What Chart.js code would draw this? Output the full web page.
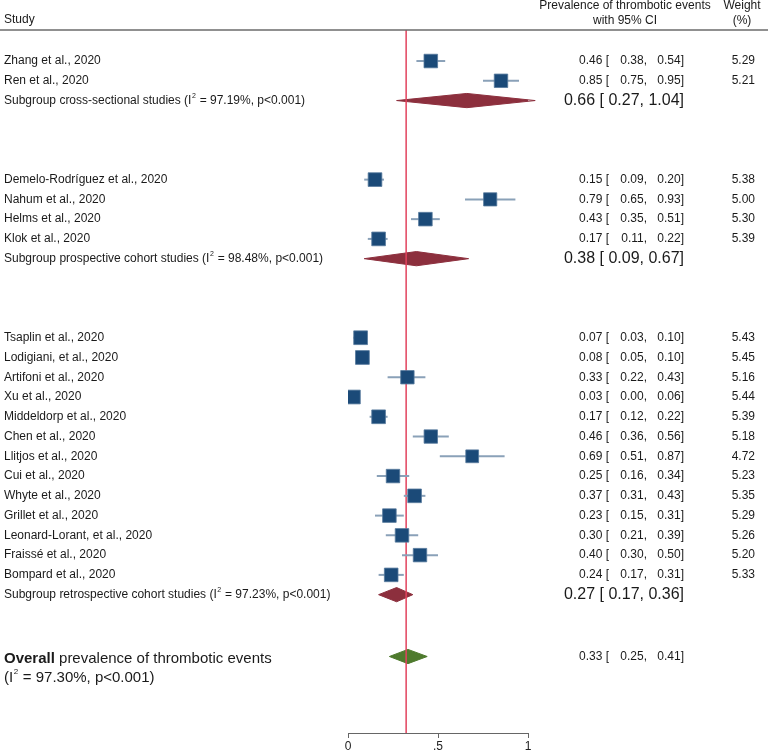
<!DOCTYPE html>
<html>
<head>
<meta charset="utf-8">
<script src="https://cdn.jsdelivr.net/npm/chart.js@4.4.0/dist/chart.umd.min.js"></script>
<style>
  body { margin: 0; background: #fff; }
  #wrap { width: 768px; height: 750px; position: relative; }
</style>
</head>
<body>
<div id="wrap"><canvas id="forest"></canvas></div>
<script>
// study level data
const studies = [
  'Zhang et al., 2020', 'Ren et al., 2020',
  'Demelo-Rodríguez et al., 2020', 'Nahum et al., 2020', 'Helms et al., 2020', 'Klok et al., 2020',
  'Tsaplin et al., 2020', 'Lodigiani, et al., 2020', 'Artifoni et al., 2020', 'Xu et al., 2020',
  'Middeldorp et al., 2020', 'Chen et al., 2020', 'Llitjos et al., 2020', 'Cui et al., 2020',
  'Whyte et al., 2020', 'Grillet et al., 2020', 'Leonard-Lorant, et al., 2020', 'Fraissé et al., 2020',
  'Bompard et al., 2020'
];
const estimates = [0.46, 0.85, 0.15, 0.79, 0.43, 0.17, 0.07, 0.08, 0.33, 0.03, 0.17, 0.46, 0.69, 0.25, 0.37, 0.23, 0.30, 0.40, 0.24];
const lowerCI   = [0.38, 0.75, 0.09, 0.65, 0.35, 0.11, 0.03, 0.05, 0.22, 0.00, 0.12, 0.36, 0.51, 0.16, 0.31, 0.15, 0.21, 0.30, 0.17];
const upperCI   = [0.54, 0.95, 0.20, 0.93, 0.51, 0.22, 0.10, 0.10, 0.43, 0.06, 0.22, 0.56, 0.87, 0.34, 0.43, 0.31, 0.39, 0.50, 0.31];
const weights   = [5.29, 5.21, 5.38, 5.00, 5.30, 5.39, 5.43, 5.45, 5.16, 5.44, 5.39, 5.18, 4.72, 5.23, 5.35, 5.29, 5.26, 5.20, 5.33];

// subgroups
const groupSizes = [2, 4, 13];
const groupNames = ['cross-sectional', 'prospective cohort', 'retrospective cohort'];
const groupI2 = ['97.19', '98.48', '97.23'];
const groupEst = [0.66, 0.38, 0.27];
const groupLo  = [0.27, 0.09, 0.17];
const groupHi  = [1.04, 0.67, 0.36];

// overall
const overallEst = 0.33, overallLo = 0.25, overallHi = 0.41;
const overallI2 = '97.30';
const overallDiamond = [0.23, 0.333, 0.44]; // as drawn
const refLine = 0.323;

const xTicks = [0, 0.5, 1];
const xTickLabels = ['0', '.5', '1'];

// row layout
const studyRows = [], groupRows = [];
let row = 0;
groupSizes.forEach(n => {
  for (let i = 0; i < n; i++) studyRows.push(row++);
  groupRows.push(row++);
  row += 3;
});
const overallRow = groupRows[groupRows.length - 1] + 3.13;
const yMin = -1.57, yMax = 34;

const FONT = '"Liberation Sans", Arial, sans-serif';
const TXT = '#1a1a1a';
const DH = 0.36;

const datasets = [];
// diamonds
groupEst.forEach((e, g) => {
  const r = groupRows[g];
  datasets.push({
    data: [{x: groupLo[g], y: r}, {x: e, y: r - DH}, {x: groupHi[g], y: r}, {x: e, y: r + DH}, {x: groupLo[g], y: r}],
    showLine: true, fill: 'shape', backgroundColor: '#8c2f3d', borderColor: '#8c2f3d',
    borderWidth: 1, pointRadius: 0, clip: false, order: 5
  });
});
datasets.push({
  data: [{x: overallDiamond[0], y: overallRow}, {x: overallDiamond[1], y: overallRow - DH},
         {x: overallDiamond[2], y: overallRow}, {x: overallDiamond[1], y: overallRow + DH},
         {x: overallDiamond[0], y: overallRow}],
  showLine: true, fill: 'shape', backgroundColor: '#4e7a2d', borderColor: '#4e7a2d',
  borderWidth: 1, pointRadius: 0, clip: false, order: 5
});
// reference line
datasets.push({
  data: [{x: refLine, y: yMin}, {x: refLine, y: yMax}],
  showLine: true, borderColor: '#e2435e', borderWidth: 1.5, pointRadius: 0, order: 4
});
// confidence intervals
studies.forEach((s, i) => {
  datasets.push({
    data: [{x: lowerCI[i], y: studyRows[i]}, {x: upperCI[i], y: studyRows[i]}],
    showLine: true, borderColor: '#8aa1b8', borderWidth: 2, pointRadius: 0, order: 3
  });
});
// squares
datasets.push({
  data: estimates.map((e, i) => ({x: e, y: studyRows[i]})),
  pointStyle: 'rect',
  pointRadius: weights.map(w => 5.9 * Math.sqrt(w) / Math.SQRT2),
  backgroundColor: '#1b4a78', borderColor: '#56799c', borderWidth: 0.8, order: 1
});

function drawI2(ctx, x, y, before, value, size) {
  ctx.textAlign = 'left';
  ctx.font = size + 'px ' + FONT;
  const a = before + '(I';
  ctx.fillText(a, x, y);
  const w = ctx.measureText(a).width;
  ctx.font = Math.round(size * 0.55) + 'px ' + FONT;
  ctx.fillText('2', x + w + 0.5, y - size * 0.4);
  const w2 = ctx.measureText('2').width;
  ctx.font = size + 'px ' + FONT;
  ctx.fillText(' = ' + value + '%, p<0.001)', x + w + w2 + 1, y);
}

const textPlugin = {
  id: 'forestText',
  afterDraw(chart) {
    const ctx = chart.ctx, ys = chart.scales.y, area = chart.chartArea;
    ctx.save();
    // header rule
    ctx.strokeStyle = '#6b6b6b';
    ctx.lineWidth = 1.5;
    ctx.beginPath();
    ctx.moveTo(0, area.top);
    ctx.lineTo(chart.width, area.top);
    ctx.stroke();

    ctx.fillStyle = TXT;
    ctx.textBaseline = 'middle';
    ctx.font = '12px ' + FONT;
    ctx.textAlign = 'left';
    ctx.fillText('Study', 4, 20);
    ctx.textAlign = 'center';
    ctx.fillText('Prevalence of thrombotic events', 625, 6);
    ctx.fillText('with 95% CI', 625, 21);
    ctx.fillText('Weight', 742, 6);
    ctx.fillText('(%)', 742, 21);

    const num = (v, x, y, suffix) => {
      ctx.textAlign = 'right';
      ctx.fillText(v + suffix, x, y);
    };

    studies.forEach((s, i) => {
      const y = ys.getPixelForValue(studyRows[i]);
      ctx.font = '12px ' + FONT;
      ctx.textAlign = 'left';
      ctx.fillText(s, 4, y);
      num(estimates[i].toFixed(2), 609, y, ' [');
      num(lowerCI[i].toFixed(2), 647, y, ',');
      num(upperCI[i].toFixed(2), 684, y, ']');
      num(weights[i].toFixed(2), 755, y, '');
    });

    groupRows.forEach((r, g) => {
      const y = ys.getPixelForValue(r);
      drawI2(ctx, 4, y, 'Subgroup ' + groupNames[g] + ' studies ', groupI2[g], 12);
      ctx.font = '16px ' + FONT;
      ctx.textAlign = 'right';
      ctx.fillText(groupEst[g].toFixed(2) + ' [ ' + groupLo[g].toFixed(2) + ', ' + groupHi[g].toFixed(2) + ']', 684, y);
    });

    const yo = ys.getPixelForValue(overallRow);
    ctx.textAlign = 'left';
    ctx.font = 'bold 15px ' + FONT;
    ctx.fillText('Overall', 4, yo + 2);
    const wb = ctx.measureText('Overall').width;
    ctx.font = '15px ' + FONT;
    ctx.fillText(' prevalence of thrombotic events', 4 + wb, yo + 2);
    drawI2(ctx, 4, yo + 21, '', overallI2, 15);
    ctx.font = '12px ' + FONT;
    num(overallEst.toFixed(2), 609, yo, ' [');
    num(overallLo.toFixed(2), 647, yo, ',');
    num(overallHi.toFixed(2), 684, yo, ']');
    ctx.restore();
  }
};

new Chart(document.getElementById('forest'), {
  type: 'scatter',
  data: { datasets: datasets },
  options: {
    responsive: true,
    maintainAspectRatio: false,
    animation: false,
    events: [],
    layout: { padding: { left: 348, right: 240, top: 30, bottom: 0 } },
    plugins: { legend: { display: false }, tooltip: { enabled: false } },
    scales: {
      x: {
        type: 'linear', min: 0, max: 1,
        afterBuildTicks: s => { s.ticks = xTicks.map(v => ({value: v})); },
        afterFit: s => { s.height = 17; },
        ticks: {
          padding: 1, color: '#222', font: { family: FONT, size: 12 },
          maxRotation: 0,
          callback: v => xTickLabels[xTicks.indexOf(v)]
        },
        grid: { drawOnChartArea: false, drawTicks: true, tickLength: 5, color: '#666' },
        border: { display: true, color: '#666', width: 1 }
      },
      y: {
        type: 'linear', min: yMin, max: yMax, reverse: true, display: false
      }
    }
  },
  plugins: [textPlugin]
});
</script>
</body>
</html>
